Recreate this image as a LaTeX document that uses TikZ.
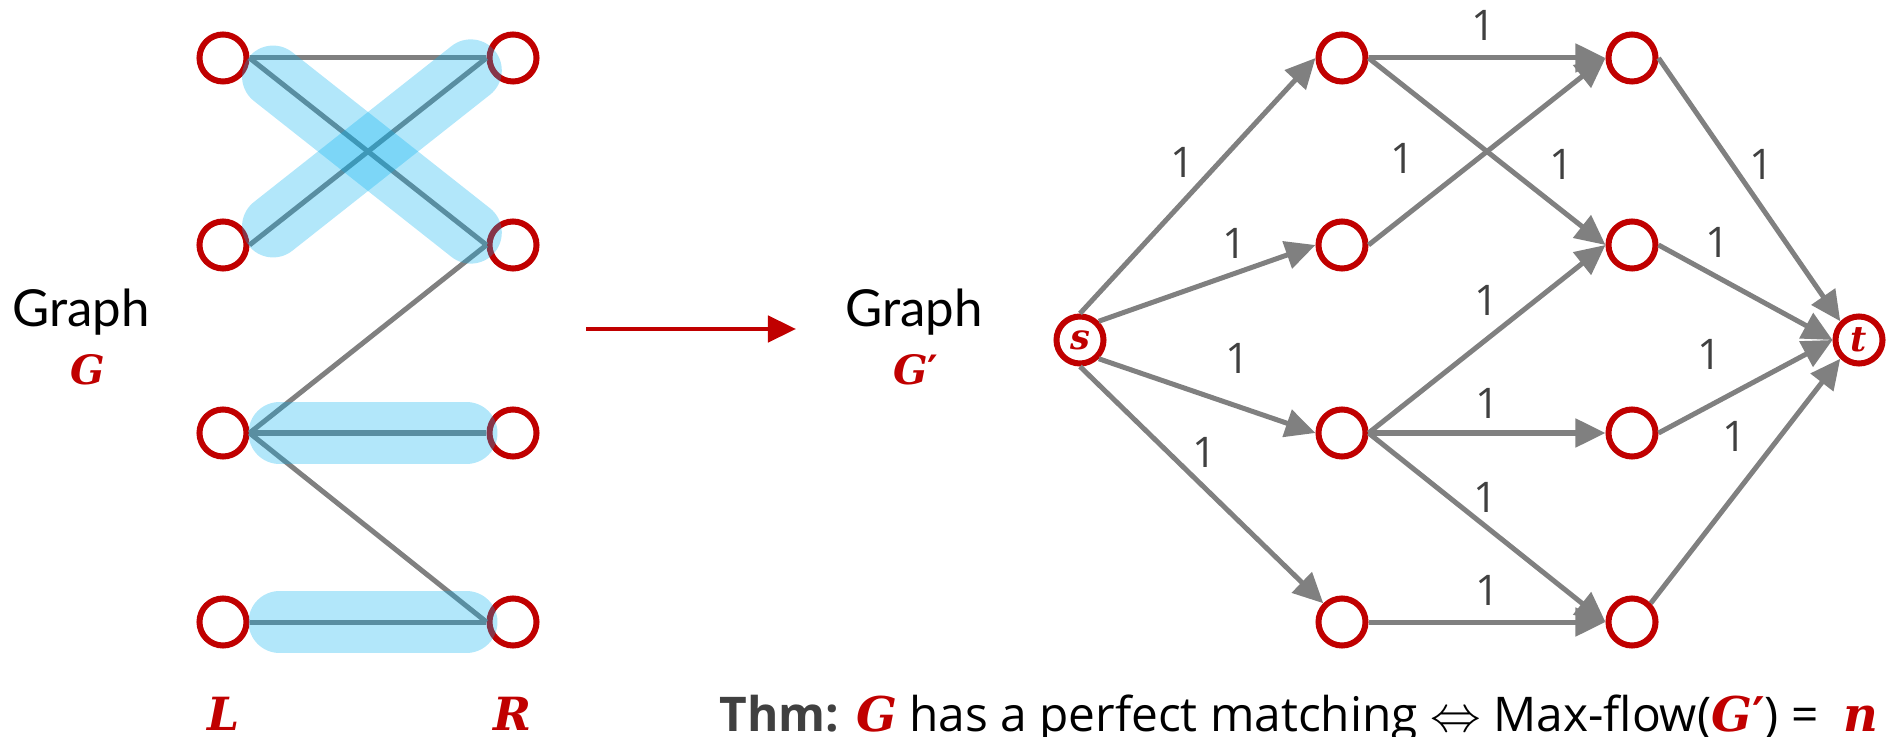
\documentclass[tikz,border=0pt]{standalone}
\usepackage{fontspec}
\setmainfont{Open Sans}
\newfontfamily\graphfont{Lato}
\newfontfamily\letterfont{DejaVu Serif}
\usetikzlibrary{arrows.meta,calc}

\definecolor{darkred}{HTML}{C00000}
\definecolor{edgegray}{HTML}{808080}
\definecolor{matchblue}{HTML}{00B0F0}
\definecolor{capgray}{HTML}{404040}

% bold italic red letters for the graph names
\newcommand{\gl}[1]{\textcolor{darkred}{\letterfont\bfseries\itshape #1}}
\newcommand{\gprime}{\textcolor{darkred}{\letterfont\bfseries\upshape ′}}

\begin{document}
\begin{tikzpicture}[
    x=0.01cm, y=-0.01cm,
    vertex/.style={circle, draw=darkred, line width=0.06cm, minimum size=0.47cm,
        inner sep=0pt, fill=white, font=\fontsize{10}{12}\selectfont},
    edge/.style={draw=edgegray, line width=0.05cm},
    flow/.style={edge, -{Triangle[length=0.3cm, width=0.28cm]}},
    match/.style={draw=matchblue, opacity=0.3, line width=0.62cm, line cap=round},
    capacity/.style={text=capgray, font=\fontsize{12}{14}\selectfont, inner sep=0pt},
    graphtxt/.style={font=\graphfont\fontsize{14.5}{16}\selectfont, anchor=base, inner sep=0pt},
    letter/.style={anchor=base, inner sep=0pt}
]
\clip (0,0) rectangle (1897,737);

% Bipartite graph G
\foreach \y [count=\i] in {58,245,433,622} {
    \node[vertex] (l\i) at (223,\y) {};
    \node[vertex] (r\i) at (513,\y) {};
}
\foreach \a/\b in {1/1,1/2,2/1,3/2,3/3,3/4,4/4}
    \draw[edge] (l\a.east) -- (r\b.west);

\node[graphtxt] (gleft) at (81,327) {Graph};
\node[letter, font=\fontsize{11.5}{14}\selectfont] (gname) at (88,385) {\gl{G}};
\node[letter, font=\fontsize{13}{16}\selectfont] (lname) at (224,730) {\gl{L}};
\node[letter, font=\fontsize{13}{16}\selectfont] (rname) at (512,730) {\gl{R}};

% Arrow to the flow network
\coordinate (from) at (586,329);
\coordinate (to) at (796,329);
\draw[draw=darkred, line width=0.045cm, -{Triangle[length=0.28cm, width=0.26cm]}] (from) -- (to);

% Flow network G'
\node[graphtxt] (gright) at (914,327) {Graph};
\node[letter, font=\fontsize{11.5}{14}\selectfont] (gname2) at (916,385) {\gl{G}\gprime};

\node[vertex] (s) at (1080,340) {\gl{s}};
\node[vertex] (t) at (1859,340) {\gl{t}};
\foreach \y [count=\i] in {58,245,433,622} {
    \node[vertex] (a\i) at (1342,\y) {};
    \node[vertex] (b\i) at (1632,\y) {};
}

\draw[flow] (s.north) -- (a1.west);
\draw[flow] (s.north east) -- (a2.west);
\draw[flow] (s.south east) -- (a3.west);
\draw[flow] (s.south) -- (a4.north west);
\foreach \a/\b in {1/1,1/2,2/1,3/2,3/3,3/4,4/4}
    \draw[flow] (a\a.east) -- (b\b.west);
\draw[flow] (b1.east) -- (t.north west);
\draw[flow] (b2.east) -- (t.west);
\draw[flow] (b3.east) -- (t.west);
\draw[flow] (b4.north east) -- (t.south west);

% Capacities
\foreach \x/\y [count=\i] in {1183/162, 1235/243, 1238/358, 1205/452,
        1484/25, 1403/158, 1562/164, 1487/300, 1488/403, 1486/497, 1488/590,
        1762/164, 1718/242, 1710/354, 1735/436}
    \node[capacity] (c\i) at (\x,\y) {1};

% Theorem
\node[anchor=base west, inner sep=0pt, font=\fontsize{13.6}{15}\selectfont] (thm) at (719,731)
    {\textcolor{capgray}{\textbf{Thm:}} \gl{G} has a perfect matching
     $\Leftrightarrow$ Max-flow(\gl{G}\gprime) = \ \gl{n}};

% Perfect matching highlight
\foreach \a/\b in {1/2,2/1,3/3,4/4}
    \draw[match] ($(l\a.east)!0.3cm!(r\b.west)$) -- ($(r\b.west)!0.2cm!(l\a.east)$);

\end{tikzpicture}
\end{document}
